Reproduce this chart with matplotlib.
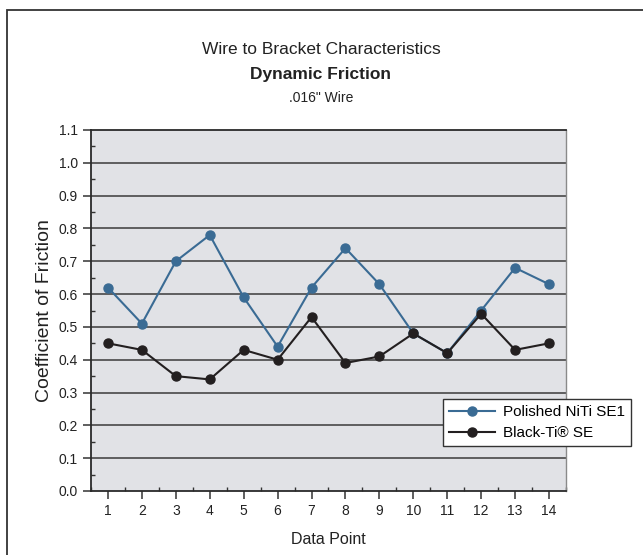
import matplotlib
matplotlib.use("Agg")
import matplotlib.pyplot as plt
from matplotlib.patches import Rectangle
from matplotlib.ticker import MultipleLocator

plt.rcParams['font.family'] = ['Liberation Sans Narrow', 'Liberation Sans', 'DejaVu Sans']

data_points = list(range(1, 15))
polished_niti = [0.62, 0.51, 0.70, 0.78, 0.59, 0.44, 0.62, 0.74, 0.63, 0.48, 0.42, 0.55, 0.68, 0.63]
black_ti = [0.45, 0.43, 0.35, 0.34, 0.43, 0.40, 0.53, 0.39, 0.41, 0.48, 0.42, 0.54, 0.43, 0.45]
series_names = ["Polished NiTi SE1", "Black-Ti\u00ae SE"]

W, H = 643, 555
fig = plt.figure(figsize=(W / 100, H / 100), dpi=100)

# outer frame
fig.patches.append(Rectangle((7 / W, -0.05), 1.2, 1 - 10 / H + 0.05, transform=fig.transFigure,
                             fill=False, edgecolor='#333333', linewidth=1.3))

ax = fig.add_axes([91 / W, 1 - 491 / H, (566 - 91) / W, (491 - 130) / H])
ax.set_facecolor('#e1e2e6')

for y in [i / 10 for i in range(1, 11)]:
    ax.axhline(y, color='#3a3a3a', linewidth=1.1, zorder=1)

ax.plot(data_points, polished_niti, color='#3a6b94', marker='o', markersize=6.5,
        linewidth=1.5, label=series_names[0], zorder=3)
ax.plot(data_points, black_ti, color='#231f20', marker='o', markersize=6.5,
        linewidth=1.5, label=series_names[1], zorder=4)

ax.set_xlim(0.5, 14.5)
ax.set_ylim(0, 1.1)
ax.set_xticks(data_points)
ax.xaxis.set_minor_locator(MultipleLocator(0.5))
ax.yaxis.set_major_locator(MultipleLocator(0.1))
ax.yaxis.set_minor_locator(MultipleLocator(0.05))
ax.set_yticklabels([f"{v:.1f}" for v in ax.get_yticks()])
ax.tick_params(axis='both', which='major', direction='out', length=6, width=1.1,
               color='#333333', labelsize=10, labelcolor='#222222')
ax.tick_params(axis='both', which='minor', direction='in', length=3, width=1.0, color='#333333')

for s in ['left', 'bottom', 'top']:
    ax.spines[s].set_color('#2a2a2a')
    ax.spines[s].set_linewidth(1.3)
ax.spines['right'].set_color('#8a8a8a')
ax.spines['right'].set_linewidth(1.0)

ax.set_xlabel("Data Point", fontsize=11.5, color='#222222', labelpad=10)
ax.set_ylabel("Coefficient of Friction", fontsize=14, color='#222222', labelpad=4)

fig.text(321 / W, 1 - 49 / H, "Wire to Bracket Characteristics", ha='center', va='center',
         fontsize=12.5, color='#222222')
fig.text(321 / W, 1 - 74 / H, "Dynamic Friction", ha='center', va='center',
         fontsize=12.5, fontweight='bold', color='#222222')
fig.text(321 / W, 1 - 98 / H, ".016\" Wire", ha='center', va='center',
         fontsize=10, color='#222222')

leg = ax.legend(loc='upper left', bbox_to_anchor=(443 / W, 1 - 399 / H),
                bbox_transform=fig.transFigure, fontsize=11, frameon=True, fancybox=False,
                framealpha=1, edgecolor='#333333', borderpad=0.4, handlelength=3.0,
                handletextpad=0.5, labelspacing=0.45, borderaxespad=0)
leg.get_frame().set_linewidth(1.0)
leg.get_frame().set_facecolor('white')

fig.savefig("out.png", dpi=100)
